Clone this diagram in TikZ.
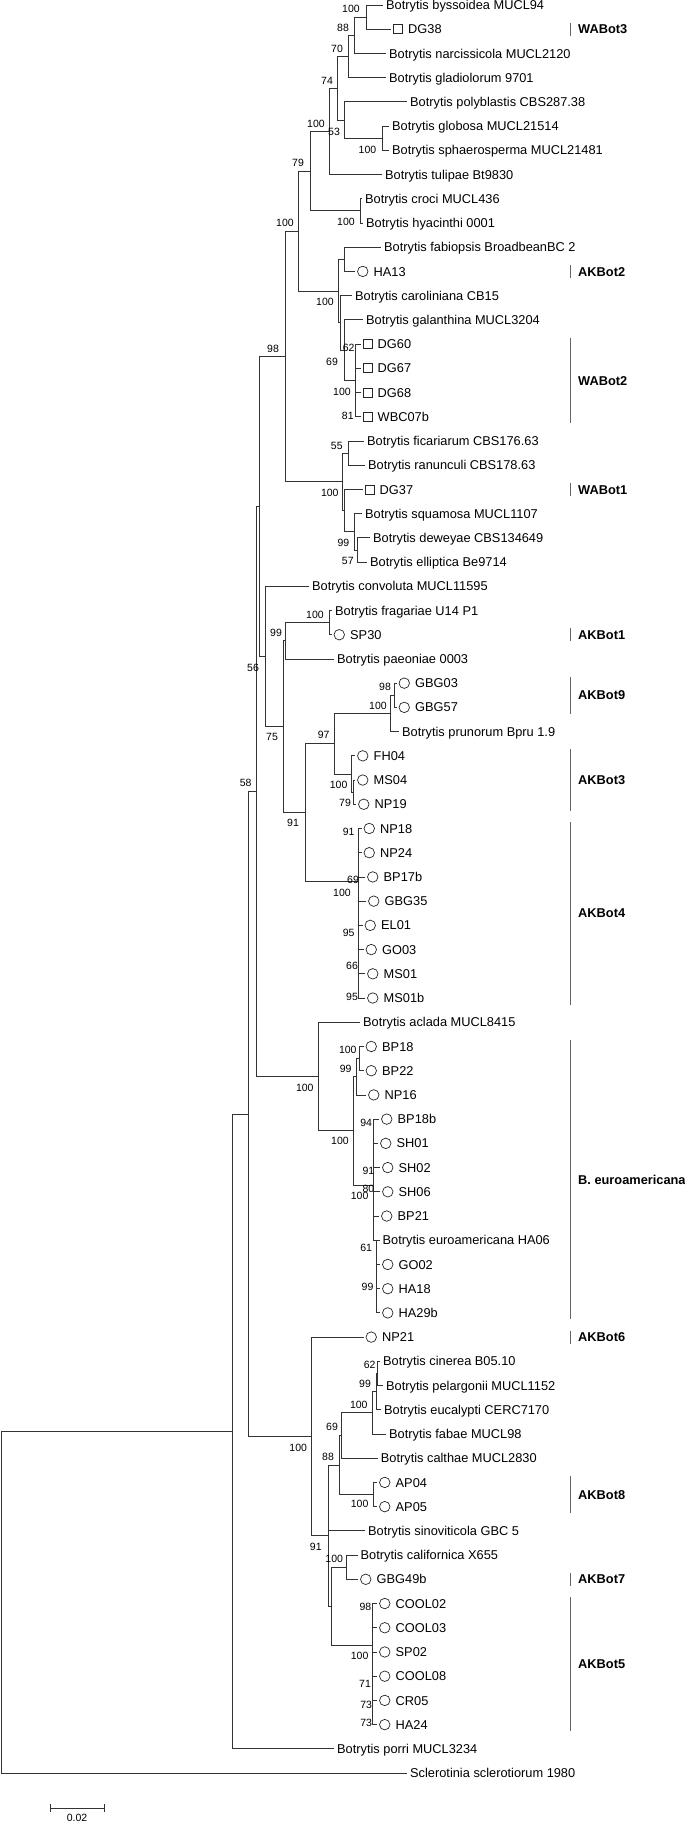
\documentclass[tikz,border=0pt]{standalone}
\usepackage{fontspec}
\setmainfont{Liberation Sans}
\usetikzlibrary{positioning}

\tikzset{
  br/.style={draw=black!80,line width=0.8pt},
  cbar/.style={draw=black!60,line width=0.7pt},
  tx/.style={anchor=west,inner xsep=3pt,inner ysep=0pt,text height=9.2pt,text depth=0pt,font=\fontsize{12.8}{15}\selectfont},
  iso/.style={circle,draw=black!85,line width=0.7pt,minimum size=10.5pt,inner sep=0pt,outer sep=2.5pt,anchor=west},
  wa/.style={rectangle,draw=black!85,line width=0.7pt,minimum size=9pt,inner sep=0pt,outer sep=2.5pt,anchor=west},
  bs/.style={inner sep=0pt,font=\fontsize{10.5}{12}\selectfont},
  clade/.style={anchor=west,inner sep=0pt,text height=9.2pt,text depth=0pt,font=\fontsize{12.8}{15}\selectfont\bfseries}
}

\begin{document}
\begin{tikzpicture}[x=1pt,y=-1pt]
\useasboundingbox (0,0) rectangle (685,1823);

\node[tx] (bys) at (383,5.00) {Botrytis byssoidea MUCL94};
\node[wa] (dg38) at (391,29.22) {}; \node[tx] (dg38t) at (dg38.east) {DG38};
\node[tx] (nar) at (386,53.44) {Botrytis narcissicola MUCL2120};
\node[tx] (gla) at (386,77.66) {Botrytis gladiolorum 9701};
\node[tx] (pol) at (407,101.88) {Botrytis polyblastis CBS287.38};
\node[tx] (glo) at (389,126.10) {Botrytis globosa MUCL21514};
\node[tx] (sph) at (389,150.32) {Botrytis sphaerosperma MUCL21481};
\node[tx] (tul) at (382,174.54) {Botrytis tulipae Bt9830};
\node[tx] (cro) at (362,198.76) {Botrytis croci MUCL436};
\node[tx] (hya) at (363,222.98) {Botrytis hyacinthi 0001};
\node[tx] (fab) at (381,247.20) {Botrytis fabiopsis BroadbeanBC 2};
\node[iso] (ha13) at (355,271.42) {}; \node[tx] (ha13t) at (ha13.east) {HA13};
\node[tx] (car) at (352,295.64) {Botrytis caroliniana CB15};
\node[tx] (gal) at (363,319.86) {Botrytis galanthina MUCL3204};
\node[wa] (dg60) at (360.5,344.08) {}; \node[tx] (dg60t) at (dg60.east) {DG60};
\node[wa] (dg67) at (360.5,368.30) {}; \node[tx] (dg67t) at (dg67.east) {DG67};
\node[wa] (dg68) at (360.5,392.52) {}; \node[tx] (dg68t) at (dg68.east) {DG68};
\node[wa] (wbc07b) at (360.5,416.74) {}; \node[tx] (wbc07bt) at (wbc07b.east) {WBC07b};
\node[tx] (fic) at (364,440.96) {Botrytis ficariarum CBS176.63};
\node[tx] (ran) at (365,465.18) {Botrytis ranunculi CBS178.63};
\node[wa] (dg37) at (362.5,489.40) {}; \node[tx] (dg37t) at (dg37.east) {DG37};
\node[tx] (squ) at (362,513.62) {Botrytis squamosa MUCL1107};
\node[tx] (dew) at (370,537.84) {Botrytis deweyae CBS134649};
\node[tx] (ell) at (367,562.06) {Botrytis elliptica Be9714};
\node[tx] (con) at (309,586.28) {Botrytis convoluta MUCL11595};
\node[tx] (fra) at (332,610.50) {Botrytis fragariae U14 P1};
\node[iso] (sp30) at (331.5,634.72) {}; \node[tx] (sp30t) at (sp30.east) {SP30};
\node[tx] (pae) at (334,658.94) {Botrytis paeoniae 0003};
\node[iso] (gbg03) at (396.5,683.16) {}; \node[tx] (gbg03t) at (gbg03.east) {GBG03};
\node[iso] (gbg57) at (396.5,707.38) {}; \node[tx] (gbg57t) at (gbg57.east) {GBG57};
\node[tx] (pru) at (399,731.60) {Botrytis prunorum Bpru 1.9};
\node[iso] (fh04) at (355,755.82) {}; \node[tx] (fh04t) at (fh04.east) {FH04};
\node[iso] (ms04) at (355,780.04) {}; \node[tx] (ms04t) at (ms04.east) {MS04};
\node[iso] (np19) at (356,804.26) {}; \node[tx] (np19t) at (np19.east) {NP19};
\node[iso] (np18) at (361.5,828.48) {}; \node[tx] (np18t) at (np18.east) {NP18};
\node[iso] (np24) at (361.5,852.70) {}; \node[tx] (np24t) at (np24.east) {NP24};
\node[iso] (bp17b) at (365,876.92) {}; \node[tx] (bp17bt) at (bp17b.east) {BP17b};
\node[iso] (gbg35) at (366,901.14) {}; \node[tx] (gbg35t) at (gbg35.east) {GBG35};
\node[iso] (el01) at (362.5,925.36) {}; \node[tx] (el01t) at (el01.east) {EL01};
\node[iso] (go03) at (363.5,949.58) {}; \node[tx] (go03t) at (go03.east) {GO03};
\node[iso] (ms01) at (365,973.80) {}; \node[tx] (ms01t) at (ms01.east) {MS01};
\node[iso] (ms01b) at (365,998.02) {}; \node[tx] (ms01bt) at (ms01b.east) {MS01b};
\node[tx] (acl) at (360,1022.24) {Botrytis aclada MUCL8415};
\node[iso] (bp18) at (363.5,1046.46) {}; \node[tx] (bp18t) at (bp18.east) {BP18};
\node[iso] (bp22) at (363.5,1070.68) {}; \node[tx] (bp22t) at (bp22.east) {BP22};
\node[iso] (np16) at (366,1094.90) {}; \node[tx] (np16t) at (np16.east) {NP16};
\node[iso] (bp18b) at (379,1119.12) {}; \node[tx] (bp18bt) at (bp18b.east) {BP18b};
\node[iso] (sh01) at (378,1143.34) {}; \node[tx] (sh01t) at (sh01.east) {SH01};
\node[iso] (sh02) at (380,1167.56) {}; \node[tx] (sh02t) at (sh02.east) {SH02};
\node[iso] (sh06) at (380,1191.78) {}; \node[tx] (sh06t) at (sh06.east) {SH06};
\node[iso] (bp21) at (379,1216.00) {}; \node[tx] (bp21t) at (bp21.east) {BP21};
\node[tx] (ha06) at (379.5,1240.22) {Botrytis euroamericana HA06};
\node[iso] (go02) at (380,1264.44) {}; \node[tx] (go02t) at (go02.east) {GO02};
\node[iso] (ha18) at (380,1288.66) {}; \node[tx] (ha18t) at (ha18.east) {HA18};
\node[iso] (ha29b) at (380,1312.88) {}; \node[tx] (ha29bt) at (ha29b.east) {HA29b};
\node[iso] (np21) at (363.5,1337.10) {}; \node[tx] (np21t) at (np21.east) {NP21};
\node[tx] (cin) at (380,1361.32) {Botrytis cinerea B05.10};
\node[tx] (pel) at (383,1385.54) {Botrytis pelargonii MUCL1152};
\node[tx] (euc) at (381,1409.76) {Botrytis eucalypti CERC7170};
\node[tx] (fbe) at (386,1433.98) {Botrytis fabae MUCL98};
\node[tx] (cal) at (377.7,1458.20) {Botrytis calthae MUCL2830};
\node[iso] (ap04) at (377,1482.42) {}; \node[tx] (ap04t) at (ap04.east) {AP04};
\node[iso] (ap05) at (377,1506.64) {}; \node[tx] (ap05t) at (ap05.east) {AP05};
\node[tx] (sin) at (365,1530.86) {Botrytis sinoviticola GBC 5};
\node[tx] (clf) at (357.5,1555.08) {Botrytis californica X655};
\node[iso] (gbg49b) at (358,1579.30) {}; \node[tx] (gbg49bt) at (gbg49b.east) {GBG49b};
\node[iso] (cool02) at (377,1603.52) {}; \node[tx] (cool02t) at (cool02.east) {COOL02};
\node[iso] (cool03) at (377,1627.74) {}; \node[tx] (cool03t) at (cool03.east) {COOL03};
\node[iso] (sp02) at (377,1651.96) {}; \node[tx] (sp02t) at (sp02.east) {SP02};
\node[iso] (cool08) at (377,1676.18) {}; \node[tx] (cool08t) at (cool08.east) {COOL08};
\node[iso] (cr05) at (377,1700.40) {}; \node[tx] (cr05t) at (cr05.east) {CR05};
\node[iso] (ha24) at (377,1724.62) {}; \node[tx] (ha24t) at (ha24.east) {HA24};
\node[tx] (por) at (334,1748.84) {Botrytis porri MUCL3234};
\node[tx] (scl) at (407,1773.06) {Sclerotinia sclerotiorum 1980};

\coordinate (nBys) at (366,17.11);
\coordinate (n88) at (354,35.28);
\coordinate (n70) at (348,56.47);
\coordinate (nGlob) at (382,138.21);
\coordinate (n53) at (344,120.05);
\coordinate (n74) at (337,88.26);
\coordinate (nTul) at (329,131.40);
\coordinate (nCroc) at (360,210.87);
\coordinate (n79) at (310,171.14);
\coordinate (nFab) at (344,259.31);
\coordinate (nWA2) at (355,380.41);
\coordinate (n69) at (344,350.14);
\coordinate (nCar) at (340,322.89);
\coordinate (nAK2) at (338,291.10);
\coordinate (n100A) at (298,231.12);
\coordinate (nFic) at (348,453.07);
\coordinate (n57) at (357,549.95);
\coordinate (n99) at (354,531.79);
\coordinate (nDG37) at (344,510.60);
\coordinate (nWA1) at (342,481.84);
\coordinate (n98) at (285,356.48);
\coordinate (nFra) at (329,622.61);
\coordinate (nPae) at (285,640.78);
\coordinate (nGBG) at (394,695.27);
\coordinate (nAK9) at (390,713.44);
\coordinate (nMS) at (353,792.15);
\coordinate (nAK3) at (351,773.99);
\coordinate (n97) at (334,743.72);
\coordinate (nAK4) at (358,881.70);
\coordinate (n91) at (305,812.71);
\coordinate (n75) at (283,726.75);
\coordinate (n56) at (265,656.52);
\coordinate (nUp) at (259,506.50);
\coordinate (nBP2) at (359,1058.57);
\coordinate (nBP) at (356,1076.70);
\coordinate (nSH) at (373,1185.00);
\coordinate (nHA) at (376,1240.22);
\coordinate (nEu) at (353,1130.85);
\coordinate (nAcl) at (318,1076.55);
\coordinate (n58) at (256,791.53);
\coordinate (n62) at (377.5,1373.43);
\coordinate (n99c) at (376,1391.60);
\coordinate (n100e) at (372,1412.79);
\coordinate (n69c) at (341,1435.50);
\coordinate (nAP) at (373,1494.53);
\coordinate (n88c) at (339,1465.02);
\coordinate (nCal) at (346,1567.19);
\coordinate (nAK5) at (372,1645.00);
\coordinate (nCalAK5) at (331,1606.10);
\coordinate (n91c) at (328,1535.56);
\coordinate (nCin) at (311,1436.33);
\coordinate (nMid) at (248,1113.93);
\coordinate (nBot) at (232,1431.39);
\coordinate (root) at (1,1602.23);

\draw[br] (nBys) |- (bys.west) (nBys) |- (dg38.west);
\draw[br] (n88) |- (nBys) (n88) |- (nar.west);
\draw[br] (n70) |- (n88) (n70) |- (gla.west);
\draw[br] (nGlob) |- (glo.west) (nGlob) |- (sph.west);
\draw[br] (n53) |- (pol.west) (n53) |- (nGlob);
\draw[br] (n74) |- (n70) (n74) |- (n53);
\draw[br] (nTul) |- (n74) (nTul) |- (tul.west);
\draw[br] (nCroc) |- (cro.west) (nCroc) |- (hya.west);
\draw[br] (n79) |- (nTul) (n79) |- (nCroc);
\draw[br] (nFab) |- (fab.west) (nFab) |- (ha13.west);
\draw[br] (nWA2) |- (dg60.west) (nWA2) |- (dg67.west) (nWA2) |- (dg68.west) (nWA2) |- (wbc07b.west);
\draw[br] (n69) |- (gal.west) (n69) |- (nWA2);
\draw[br] (nCar) |- (car.west) (nCar) |- (n69);
\draw[br] (nAK2) |- (nFab) (nAK2) |- (nCar);
\draw[br] (n100A) |- (n79) (n100A) |- (nAK2);
\draw[br] (nFic) |- (fic.west) (nFic) |- (ran.west);
\draw[br] (n57) |- (dew.west) (n57) |- (ell.west);
\draw[br] (n99) |- (squ.west) (n99) |- (n57);
\draw[br] (nDG37) |- (dg37.west) (nDG37) |- (n99);
\draw[br] (nWA1) |- (nFic) (nWA1) |- (nDG37);
\draw[br] (n98) |- (n100A) (n98) |- (nWA1);
\draw[br] (nFra) |- (fra.west) (nFra) |- (sp30.west);
\draw[br] (nPae) |- (nFra) (nPae) |- (pae.west);
\draw[br] (nGBG) |- (gbg03.west) (nGBG) |- (gbg57.west);
\draw[br] (nAK9) |- (nGBG) (nAK9) |- (pru.west);
\draw[br] (nMS) |- (ms04.west) (nMS) |- (np19.west);
\draw[br] (nAK3) |- (fh04.west) (nAK3) |- (nMS);
\draw[br] (n97) |- (nAK9) (n97) |- (nAK3);
\draw[br] (nAK4) |- (np18.west) (nAK4) |- (np24.west) (nAK4) |- (bp17b.west) (nAK4) |- (gbg35.west)
  (nAK4) |- (el01.west) (nAK4) |- (go03.west) (nAK4) |- (ms01.west) (nAK4) |- (ms01b.west);
\draw[br] (n91) |- (n97) (n91) |- (nAK4);
\draw[br] (n75) |- (nPae) (n75) |- (n91);
\draw[br] (n56) |- (con.west) (n56) |- (n75);
\draw[br] (nUp) |- (n98) (nUp) |- (n56);
\draw[br] (nBP2) |- (bp18.west) (nBP2) |- (bp22.west);
\draw[br] (nBP) |- (nBP2) (nBP) |- (np16.west);
\draw[br] (nHA) |- (ha06.west) (nHA) |- (go02.west) (nHA) |- (ha18.west) (nHA) |- (ha29b.west);
\draw[br] (nSH) |- (bp18b.west) (nSH) |- (sh01.west) (nSH) |- (sh02.west) (nSH) |- (sh06.west)
  (nSH) |- (bp21.west) (nSH) |- (nHA);
\draw[br] (nEu) |- (nBP) (nEu) |- (nSH);
\draw[br] (nAcl) |- (acl.west) (nAcl) |- (nEu);
\draw[br] (n58) |- (nUp) (n58) |- (nAcl);
\draw[br] (n62) |- (cin.west) (n62) |- (pel.west);
\draw[br] (n99c) |- (n62) (n99c) |- (euc.west);
\draw[br] (n100e) |- (n99c) (n100e) |- (fbe.west);
\draw[br] (n69c) |- (n100e) (n69c) |- (cal.west);
\draw[br] (nAP) |- (ap04.west) (nAP) |- (ap05.west);
\draw[br] (n88c) |- (n69c) (n88c) |- (nAP);
\draw[br] (nCal) |- (clf.west) (nCal) |- (gbg49b.west);
\draw[br] (nAK5) |- (cool02.west) (nAK5) |- (cool03.west) (nAK5) |- (sp02.west) (nAK5) |- (cool08.west)
  (nAK5) |- (cr05.west) (nAK5) |- (ha24.west);
\draw[br] (nCalAK5) |- (nCal) (nCalAK5) |- (nAK5);
\draw[br] (n91c) |- (n88c) (n91c) |- (sin.west) (n91c) |- (nCalAK5);
\draw[br] (nCin) |- (np21.west) (nCin) |- (n91c);
\draw[br] (nMid) |- (n58) (nMid) |- (nCin);
\draw[br] (nBot) |- (nMid) (nBot) |- (por.west);
\draw[br] (root) |- (nBot) (root) |- (scl.west);

\foreach \v/\x/\y [count=\i] in {100/351/9, 88/343/28, 70/337/49, 74/327/81, 100/316/124, 53/334/132,
  100/367.5/150, 79/298/163, 100/346/222, 100/285/223, 100/325/302, 98/273/349, 62/348.7/348.3,
  69/332/361.7, 100/342/391.7, 81/347.8/416, 55/336.8/446, 100/329.8/492.7, 99/343.4/542.7,
  57/347.8/561, 100/315/615, 99/276/633, 56/253/668, 98/385/687.3, 100/378/706, 97/323.7/735,
  75/272/736.7, 58/245.6/783.3, 100/338.6/785, 79/345/803.3, 91/293/823.3, 91/348.7/831.7,
  69/353/880, 100/342/892.7, 95/348.7/933.3, 66/352/966, 95/352/996.7, 100/347.8/1050,
  99/345.6/1069, 100/304.8/1087.7, 94/366.2/1122.7, 100/340/1140.7, 91/368.4/1170.7,
  80/368.4/1188.5, 100/359.6/1196, 61/366.2/1248.3, 99/367.5/1287.3, 62/369.7/1365,
  99/365/1384.3, 100/358.8/1405, 69/332/1427.3, 100/298.2/1447.7, 88/328/1457.3, 100/359.6/1504,
  91/315.8/1546.7, 100/334.2/1559.3, 98/365.4/1607.3, 100/359.6/1655.7, 71/365/1684.3,
  73/366.2/1705, 73/366.2/1723.3}
  \node[bs] (bs\i) at (\x,\y) {\v};

\node[clade] (wabot3) at (578,29.22) {WABot3};
\node[clade] (akbot2) at (578,271.42) {AKBot2};
\node[clade] (wabot2) at (578,380.41) {WABot2};
\node[clade] (wabot1) at (578,489.40) {WABot1};
\node[clade] (akbot1) at (578,634.72) {AKBot1};
\node[clade] (akbot9) at (578,695.27) {AKBot9};
\node[clade] (akbot3) at (578,780.04) {AKBot3};
\node[clade] (akbot4) at (578,913.25) {AKBot4};
\node[clade] (beuro) at (578,1179.67) {B. euroamericana};
\node[clade] (akbot6) at (578,1337.10) {AKBot6};
\node[clade] (akbot8) at (578,1494.53) {AKBot8};
\node[clade] (akbot7) at (578,1579.30) {AKBot7};
\node[clade] (akbot5) at (578,1664.07) {AKBot5};
\draw[cbar] (570,22.7) -- (570,35.7);
\draw[cbar] (570,264.9) -- (570,277.9);
\draw[cbar] (570,337.6) -- (570,423.2);
\draw[cbar] (570,482.9) -- (570,495.9);
\draw[cbar] (570,628.2) -- (570,641.2);
\draw[cbar] (570,676.7) -- (570,713.9);
\draw[cbar] (570,749.3) -- (570,810.8);
\draw[cbar] (570,822.0) -- (570,1004.5);
\draw[cbar] (570,1040.0) -- (570,1319.4);
\draw[cbar] (570,1330.6) -- (570,1343.6);
\draw[cbar] (570,1476.0) -- (570,1513.1);
\draw[cbar] (570,1572.8) -- (570,1585.8);
\draw[cbar] (570,1597.0) -- (570,1731.1);

\coordinate (s0) at (50,1808);
\coordinate (s1) at (104,1808);
\draw[br] (s0) -- (s1) ([yshift=-4pt]s0) -- ([yshift=4pt]s0) ([yshift=-4pt]s1) -- ([yshift=4pt]s1);
\node[bs] (sbar) at (77,1818) {0.02};
\end{tikzpicture}
\end{document}
